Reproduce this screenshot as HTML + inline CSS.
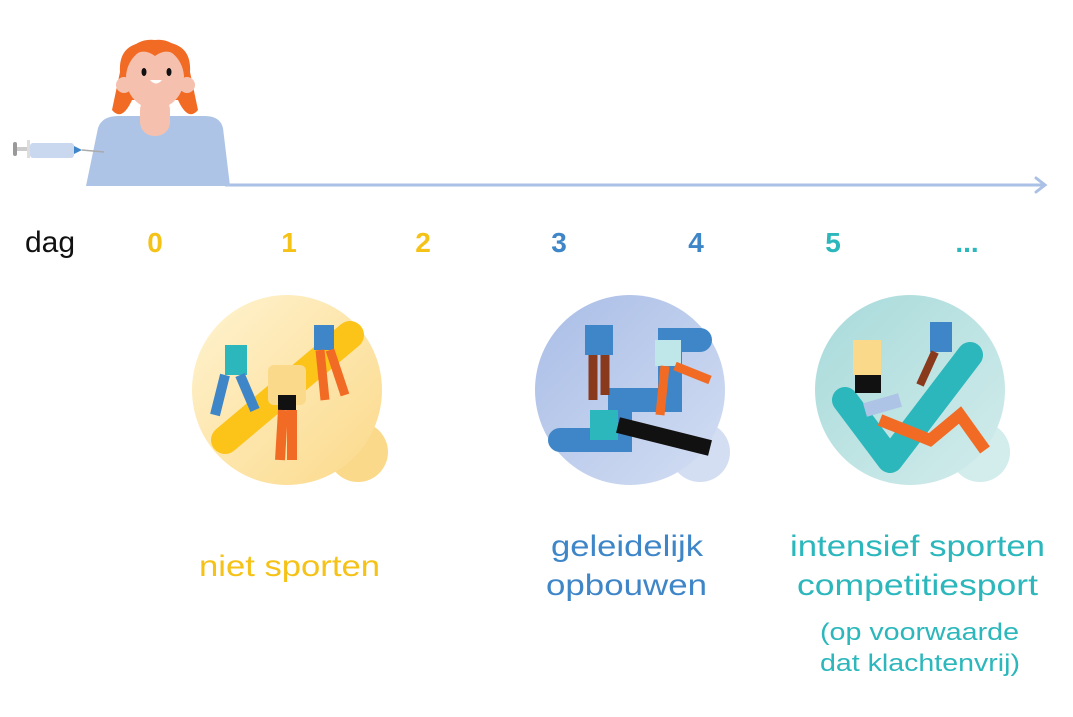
<!DOCTYPE html>
<html><head><meta charset="utf-8"><style>
html,body{margin:0;padding:0;background:#fff;}
svg{display:block;}
text{font-family:"Liberation Sans",sans-serif;}
</style></head><body>
<svg width="1073" height="717" viewBox="0 0 1073 717" xmlns="http://www.w3.org/2000/svg">
<defs>
<linearGradient id="gy" x1="0" y1="0" x2="1" y2="1"><stop offset="0" stop-color="#fff3d0"/><stop offset="1" stop-color="#fbd98a"/></linearGradient>
<linearGradient id="gb" x1="0" y1="0" x2="1" y2="1"><stop offset="0" stop-color="#a9bde6"/><stop offset="1" stop-color="#d3def3"/></linearGradient>
<linearGradient id="gt" x1="0" y1="0" x2="1" y2="1"><stop offset="0" stop-color="#a8dada"/><stop offset="1" stop-color="#d3ecec"/></linearGradient>
</defs>
<!-- timeline -->
<line x1="225" y1="185" x2="1044" y2="185" stroke="#aac0e4" stroke-width="3"/>
<polyline points="1036,178 1045,185 1036,192" fill="none" stroke="#aac0e4" stroke-width="3" stroke-linecap="round"/>
<!-- girl -->
<path d="M86,186 L98,128 Q102,116 118,116 L205,116 Q220,116 223,128 L230,186 Z" fill="#aec4e6"/>
<path d="M120,72 Q118,40 155,42 Q192,40 190,72 L198,110 Q188,122 178,100 L132,100 Q122,122 112,110 Z" fill="#f26b25"/>
<rect x="140" y="96" width="30" height="40" rx="14" fill="#f5c1ae"/>
<circle cx="124" cy="85" r="8" fill="#f5c1ae"/><circle cx="187" cy="85" r="8" fill="#f5c1ae"/>
<ellipse cx="155" cy="78" rx="29" ry="31" fill="#f5c1ae"/>
<path d="M128,62 Q140,45 155,56 Q170,45 182,62 L182,52 Q170,38 155,40 Q138,38 128,52 Z" fill="#f26b25"/>
<ellipse cx="144" cy="72" rx="2.5" ry="4" fill="#111"/><ellipse cx="169" cy="72" rx="2.5" ry="4" fill="#111"/>
<path d="M150,80 Q156,87 162,80 Z" fill="#fff"/>
<!-- syringe -->
<rect x="13" y="142" width="4" height="14" rx="2" fill="#999"/>
<rect x="17" y="147" width="12" height="4" fill="#ccc"/>
<rect x="27" y="140" width="3" height="18" fill="#ddd"/>
<rect x="30" y="143" width="44" height="15" rx="3" fill="#c9d7ef"/>
<polygon points="74,146 82,150 74,154" fill="#3f86c8"/>
<line x1="82" y1="150" x2="104" y2="152" stroke="#aaa" stroke-width="1.5"/>
<!-- labels -->
<text x="25" y="252" font-size="30" fill="#111">dag</text>
<g font-size="28" font-weight="bold" text-anchor="middle">
<text x="155" y="252" fill="#f5c218">0</text>
<text x="289" y="252" fill="#f5c218">1</text>
<text x="423" y="252" fill="#f5c218">2</text>
<text x="559" y="252" fill="#3f86c8">3</text>
<text x="696" y="252" fill="#3f86c8">4</text>
<text x="833" y="252" fill="#2bb7bb">5</text>
<text x="967" y="252" fill="#2bb7bb">...</text>
</g>
<!-- circle 1 -->
<circle cx="358" cy="452" r="30" fill="#fbd98a"/>
<circle cx="287" cy="390" r="95" fill="url(#gy)"/>
<line x1="225" y1="440" x2="350" y2="335" stroke="#fcc419" stroke-width="28" stroke-linecap="round"/>
<rect x="225" y="345" width="22" height="30" fill="#2bb7bb"/>
<path d="M225,375 L215,415 M240,375 L255,410" stroke="#3f86c8" stroke-width="10"/>
<rect x="268" y="365" width="38" height="40" rx="6" fill="#fbd98a"/>
<rect x="278" y="395" width="18" height="15" fill="#111"/>
<path d="M283,410 L280,460 M292,410 L292,460" stroke="#f26b25" stroke-width="10"/>
<rect x="314" y="325" width="20" height="25" fill="#3f86c8"/>
<path d="M320,350 L325,400 M330,350 L345,395" stroke="#f26b25" stroke-width="9"/>
<!-- circle 2 -->
<circle cx="700" cy="452" r="30" fill="#d3def3"/>
<circle cx="630" cy="390" r="95" fill="url(#gb)"/>
<path d="M560,440 L620,440 L620,400 L670,400 L670,340 L700,340" fill="none" stroke="#3f86c8" stroke-width="24" stroke-linecap="round"/>
<rect x="585" y="325" width="28" height="30" fill="#3f86c8"/>
<path d="M593,355 L593,400 M605,355 L605,395" stroke="#8a3a1c" stroke-width="9"/>
<rect x="655" y="340" width="26" height="26" fill="#bfe6e8"/>
<path d="M665,366 L660,415 M675,366 L710,380" stroke="#f26b25" stroke-width="9"/>
<rect x="590" y="410" width="28" height="30" fill="#2bb7bb"/>
<path d="M618,425 L710,448" stroke="#111" stroke-width="16"/>
<!-- circle 3 -->
<circle cx="980" cy="452" r="30" fill="#d3ecec"/>
<circle cx="910" cy="390" r="95" fill="url(#gt)"/>
<path d="M845,400 L890,460 L970,355" fill="none" stroke="#2bb7bb" stroke-width="26" stroke-linecap="round" stroke-linejoin="round"/>
<rect x="853" y="340" width="28" height="35" fill="#fbd98a"/>
<rect x="855" y="375" width="26" height="18" fill="#111"/>
<rect x="930" y="322" width="22" height="30" fill="#3f86c8"/>
<path d="M935,352 L920,385" stroke="#8a3a1c" stroke-width="8"/>
<path d="M880,420 L930,440 L960,415 L985,450" fill="none" stroke="#f26b25" stroke-width="12"/>
<path d="M865,410 L900,400" stroke="#aec4e6" stroke-width="14"/>
<!-- bottom text -->
<text x="199" y="576" font-size="30" fill="#f5c218" textLength="181" lengthAdjust="spacingAndGlyphs">niet sporten</text>
<text x="551" y="556" font-size="30" fill="#3f86c8" textLength="152" lengthAdjust="spacingAndGlyphs">geleidelijk</text>
<text x="546" y="595" font-size="30" fill="#3f86c8" textLength="161" lengthAdjust="spacingAndGlyphs">opbouwen</text>
<text x="790" y="556" font-size="30" fill="#2bb7bb" textLength="255" lengthAdjust="spacingAndGlyphs">intensief sporten</text>
<text x="797" y="595" font-size="30" fill="#2bb7bb" textLength="241" lengthAdjust="spacingAndGlyphs">competitiesport</text>
<text x="820" y="640" font-size="24" fill="#2bb7bb" textLength="199" lengthAdjust="spacingAndGlyphs">(op voorwaarde</text>
<text x="820" y="671" font-size="24" fill="#2bb7bb" textLength="200" lengthAdjust="spacingAndGlyphs">dat klachtenvrij)</text>
</svg>
</body></html>
